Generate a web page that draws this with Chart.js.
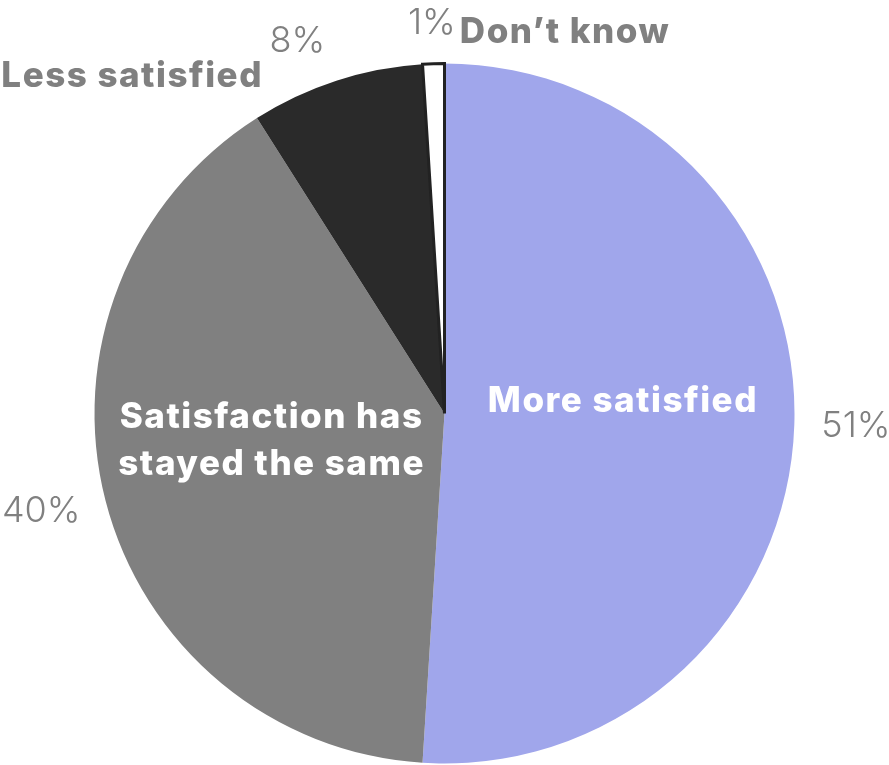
<!DOCTYPE html>
<html>
<head>
<meta charset="utf-8">
<script src="https://cdn.jsdelivr.net/npm/chart.js@4/dist/chart.umd.min.js"></script>
<style>
  html, body { margin: 0; padding: 0; background: #fff; }
  #pie { display: block; }
</style>
</head>
<body>
<canvas id="pie" width="889" height="765"></canvas>
<script>
// survey answers, clockwise from 12 o'clock
const categories = ['More satisfied', 'Satisfaction has stayed the same', 'Less satisfied', 'Don\u2019t know'];
const shares = [51, 40, 8, 1];
const sliceColors = ['#a0a6eb', '#808080', '#2a2a2a', '#ffffff'];

const NAME_FONT = '800 35px Inter, "Open Sans", sans-serif';
const NAME_SPACING = '1.5px';
const PCT_FONT = '300 36px Inter, "Open Sans", sans-serif';
const GREY = '#808080';

// split a label into lines no wider than maxW
function wrap(ctx, text, maxW) {
  const words = text.split(' ');
  const lines = [];
  let cur = '';
  words.forEach(w => {
    const t = cur ? cur + ' ' + w : w;
    if (cur && ctx.measureText(t).width > maxW) {
      lines.push(cur);
      cur = w;
    } else {
      cur = t;
    }
  });
  if (cur) lines.push(cur);
  return lines;
}

const sliceLabels = {
  id: 'sliceLabels',
  afterDatasetsDraw(chart) {
    const ctx = chart.ctx;
    const arcs = chart.getDatasetMeta(0).data;
    ctx.save();
    ctx.textBaseline = 'middle';
    arcs.forEach((arc, i) => {
      const p = arc.getProps(['x', 'y', 'startAngle', 'endAngle', 'outerRadius'], true);
      const mid = (p.startAngle + p.endAngle) / 2;
      const dx = Math.cos(mid), dy = Math.sin(mid);
      const R = p.outerRadius;

      // percentage just outside the rim, along the middle of the slice
      ctx.font = PCT_FONT;
      ctx.letterSpacing = '0px';
      ctx.fillStyle = GREY;
      ctx.textAlign = 'center';
      const pct = shares[i] + '%';
      const pw = ctx.measureText(pct).width;
      const gap = 27;
      let px = p.x + dx * (R + gap) + dx * pw / 2;
      let py = p.y + dy * (R + gap) + dy * 14;
      if (i === 2) px -= 22;
      ctx.fillText(pct, px, py);

      ctx.font = NAME_FONT;
      ctx.letterSpacing = NAME_SPACING;
      if (i < 2) {
        // big slices: white name inside
        ctx.fillStyle = '#ffffff';
        const lines = wrap(ctx, categories[i], 340);
        const cx = p.x + dx * R * 0.51;
        const cy = p.y + dy * R * 0.51 - (i === 0 ? 18 : 17);
        const lh = 47;
        lines.forEach((ln, k) => {
          ctx.fillText(ln, cx, cy + (k - (lines.length - 1) / 2) * lh);
        });
      } else if (i === 2) {
        // name sits above-left of the slice's leading edge
        ctx.fillStyle = GREY;
        ctx.textAlign = 'right';
        const ex = p.x + Math.cos(p.startAngle) * R;
        const ey = p.y + Math.sin(p.startAngle) * R;
        ctx.fillText(categories[i], ex + 6, ey - 42);
      } else {
        // name follows its percentage on the same line
        ctx.fillStyle = GREY;
        ctx.textAlign = 'left';
        ctx.fillText(categories[i], px + pw / 2 + 4, py + 10);
      }
    });
    ctx.restore();
  }
};

new Chart(document.getElementById('pie'), {
  type: 'pie',
  data: {
    labels: categories,
    datasets: [{
      data: shares,
      backgroundColor: sliceColors,
      borderColor: '#222222',
      borderWidth: [0, 0, 0, 3],
      borderJoinStyle: 'miter'
    }]
  },
  options: {
    responsive: false,
    animation: false,
    layout: { padding: { left: 93, right: 93, top: 62, bottom: 0 } },
    plugins: {
      legend: { display: false },
      tooltip: { enabled: false }
    }
  },
  plugins: [sliceLabels]
});
</script>
</body>
</html>
